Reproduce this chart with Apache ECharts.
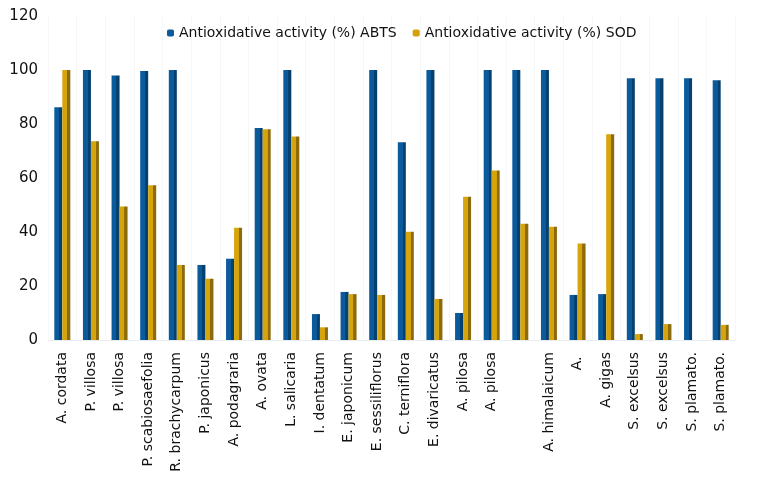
<!DOCTYPE html>
<html><head><meta charset="utf-8">
<script src="https://cdn.jsdelivr.net/npm/echarts@6/dist/echarts.min.js"></script>
<style>html,body{margin:0;padding:0;background:#fff}#c{width:758px;height:484px}</style>
</head><body><div id="c"></div>
<script>
const categories = ["A. cordata","P. villosa","P. villosa","P. scabiosaefolia","R. brachycarpum","P. japonicus","A. podagraria","A. ovata","L. salicaria","I. dentatum","E. japonicum","E. sessiliflorus","C. terniflora","E. divaricatus","A. pilosa","A. pilosa","","A. himalaicum","A. ","A. gigas","S. excelsus","S. excelsus","S. plamato.","S. plamato."];
const abts = [86.2,100,98.0,99.6,100,27.8,30.1,78.5,100,9.6,17.8,100,73.2,100,10.0,100,100,100,16.7,17.0,96.9,96.9,96.9,96.2];
const sod = [100,73.6,49.4,57.3,27.8,22.7,41.6,78.1,75.4,4.7,17.0,16.7,40.1,15.2,53.1,62.8,43.1,41.9,35.7,76.2,2.2,5.9,0,5.6];
const seriesNames = ["Antioxidative activity (%) ABTS","Antioxidative activity (%) SOD"];
const yTicks = {min:0,max:120,interval:20};

function grad(main, dark){
  return {type:'linear',x:0,y:0,x2:1,y2:0,colorStops:[
    {offset:0,color:main},{offset:0.6,color:main},{offset:0.62,color:dark},{offset:1,color:dark}]};
}
const font = 'DejaVu Sans, sans-serif';
const chart = echarts.init(document.getElementById('c'));
chart.setOption({
  animation:false,
  backgroundColor:'#fff',
  legend:{top:21,left:162,itemWidth:7,itemHeight:7,itemGap:16,
    textStyle:{fontFamily:font,fontSize:14,color:'#111'},
    data:[{name:seriesNames[0],itemStyle:{color:'#0a5a9c'}},{name:seriesNames[1],itemStyle:{color:'#d4a10a'}}]},
  grid:{left:48,right:23,top:16,bottom:144,containLabel:false},
  xAxis:{type:'category',data:categories,
    axisLine:{lineStyle:{color:'#e6edf3'}},axisTick:{show:false},
    splitLine:{show:true,lineStyle:{color:'#f6f7f9'}},
    axisLabel:{rotate:90,interval:0,margin:12,fontFamily:font,fontSize:14,color:'#111'}},
  yAxis:{type:'value',min:yTicks.min,max:yTicks.max,interval:yTicks.interval,
    axisLine:{show:false},axisTick:{show:false},splitLine:{show:false},
    axisLabel:{margin:10,fontFamily:font,fontSize:15,color:'#111'}},
  series:[
    {name:seriesNames[0],type:'bar',data:abts,barWidth:8,barGap:'0%',
     itemStyle:{color:grad('#0a5a9c','#06406f')}},
    {name:seriesNames[1],type:'bar',data:sod,barWidth:8,barGap:'0%',
     itemStyle:{color:grad('#d6a50c','#8d6b0c')}}
  ]
});
</script></body></html>
